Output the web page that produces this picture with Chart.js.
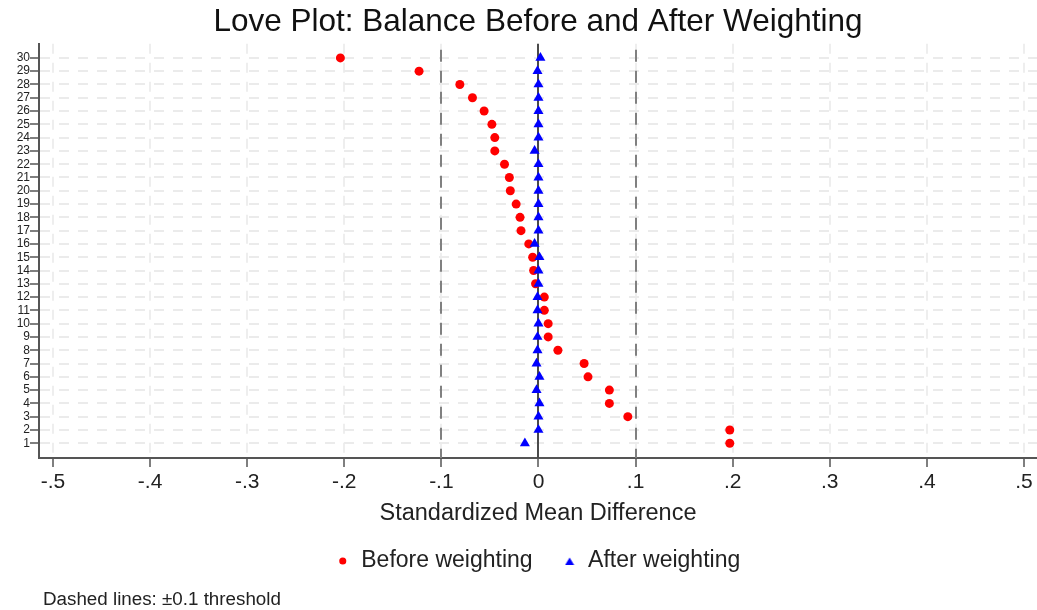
<!DOCTYPE html>
<html>
<head>
<meta charset="utf-8">
<title>Love Plot</title>
<script src="https://cdn.jsdelivr.net/npm/chart.js@4.4.1/dist/chart.umd.min.js"></script>
<style>
  html, body { margin: 0; padding: 0; background: #fff; }
</style>
</head>
<body>
<canvas id="loveplot" width="1037" height="610"></canvas>
<script>
// covariate rows, 1 at the bottom up to 30 at the top
var covariates = [1, 2, 3, 4, 5, 6, 7, 8, 9, 10, 11, 12, 13, 14, 15,
                  16, 17, 18, 19, 20, 21, 22, 23, 24, 25, 26, 27, 28, 29, 30];

// standardized mean differences, same order as covariates
var smdBefore = [0.197, 0.197, 0.092, 0.073, 0.073, 0.051, 0.047, 0.020, 0.010, 0.010,
                 0.006, 0.006, -0.003, -0.005, -0.006, -0.010, -0.018, -0.019, -0.023, -0.029,
                 -0.030, -0.035, -0.045, -0.045, -0.048, -0.056, -0.068, -0.081, -0.123, -0.204];
var smdAfter = [-0.014, 0.000, 0.000, 0.001, -0.002, 0.001, -0.002, -0.001, -0.001, 0.000,
                -0.001, -0.001, 0.000, 0.000, 0.001, -0.004, 0.000, 0.000, 0.000, 0.000,
                0.000, 0.000, -0.004, 0.000, 0.000, 0.000, 0.000, 0.000, -0.001, 0.002];

var xTickValues = [-0.5, -0.4, -0.3, -0.2, -0.1, 0, 0.1, 0.2, 0.3, 0.4, 0.5];
var xTickLabels = ['-.5', '-.4', '-.3', '-.2', '-.1', '0', '.1', '.2', '.3', '.4', '.5'];
var thresholds = [-0.1, 0.1];
var noteText = 'Dashed lines: \u00b10.1 threshold';

var FONT = '"Liberation Sans", Arial, Helvetica, sans-serif';

function toPoints(vals) {
  return vals.map(function (v, i) { return { x: v, y: covariates[i] }; });
}

// small triangle for the legend key (built-in one comes out too small)
function legendTriangle(color) {
  var c = document.createElement('canvas');
  c.width = 10;
  c.height = 8;
  var g = c.getContext('2d');
  g.fillStyle = color;
  g.beginPath();
  g.moveTo(5, 0.5);
  g.lineTo(9.5, 8);
  g.lineTo(0.5, 8);
  g.closePath();
  g.fill();
  return c;
}

// zero line and the +/-0.1 dashed threshold lines
var refLines = {
  id: 'refLines',
  beforeDatasetsDraw: function (chart) {
    var ctx = chart.ctx, area = chart.chartArea, xs = chart.scales.x;
    ctx.save();
    ctx.lineWidth = 2;
    ctx.strokeStyle = '#808080';
    ctx.setLineDash([12, 9]);
    ctx.lineDashOffset = 15;
    thresholds.forEach(function (t) {
      var px = Math.round(xs.getPixelForValue(t));
      ctx.beginPath();
      ctx.moveTo(px, area.top);
      ctx.lineTo(px, area.bottom);
      ctx.stroke();
    });
    ctx.setLineDash([]);
    ctx.strokeStyle = '#4a4a4a';
    var z = Math.round(xs.getPixelForValue(0));
    ctx.beginPath();
    ctx.moveTo(z, area.top);
    ctx.lineTo(z, area.bottom);
    ctx.stroke();
    ctx.restore();
  },
  afterDraw: function (chart) {
    var ctx = chart.ctx;
    ctx.save();
    ctx.font = '18.8px ' + FONT;
    ctx.fillStyle = '#222';
    ctx.textAlign = 'left';
    ctx.textBaseline = 'alphabetic';
    ctx.fillText(noteText, 43, chart.height - 5);
    ctx.restore();
  }
};

new Chart(document.getElementById('loveplot'), {
  type: 'scatter',
  data: {
    datasets: [
      {
        label: 'Before weighting',
        data: toPoints(smdBefore),
        pointStyle: 'circle',
        pointRadius: 4.5,
        pointHoverRadius: 4.5,
        backgroundColor: '#ff0000',
        borderColor: '#ff0000',
        borderWidth: 0,
        order: 2
      },
      {
        label: 'After weighting',
        data: toPoints(smdAfter),
        pointStyle: 'triangle',
        pointRadius: 5.8,
        pointHoverRadius: 5.8,
        backgroundColor: '#0000ff',
        borderColor: '#0000ff',
        borderWidth: 0,
        order: 1
      }
    ]
  },
  options: {
    responsive: false,
    animation: false,
    layout: { autoPadding: false, padding: { top: 0, left: 0, right: 0, bottom: 27.5 } },
    scales: {
      x: {
        type: 'linear',
        min: -0.5144,
        max: 0.5134,
        afterBuildTicks: function (scale) {
          scale.ticks = xTickValues.map(function (v) { return { value: v }; });
        },
        afterFit: function (scale) {
          scale.height = 61.5;
          scale.paddingLeft = 0;
          scale.paddingRight = 0;
        },
        ticks: {
          padding: 3,
          color: '#222',
          font: { family: FONT, size: 21 },
          maxRotation: 0,
          autoSkip: false,
          callback: function (v) {
            var i = xTickValues.indexOf(v);
            return i >= 0 ? xTickLabels[i] : '';
          }
        },
        grid: {
          color: '#eeeeee',
          lineWidth: 2,
          tickLength: 9,
          tickColor: '#555',
          tickWidth: 1.5
        },
        border: { color: '#555', width: 2, dash: [10, 9] },
        title: {
          display: true,
          text: 'Standardized Mean Difference',
          color: '#222',
          font: { family: FONT, size: 23.5 },
          padding: { top: 0, bottom: -8.3 }
        }
      },
      y: {
        type: 'linear',
        min: -0.11,
        max: 31.06,
        afterBuildTicks: function (scale) {
          scale.ticks = covariates.map(function (v) { return { value: v }; });
        },
        afterFit: function (scale) { scale.width = 39; },
        ticks: {
          padding: 0,
          color: '#222',
          autoSkip: false,
          font: { family: FONT, size: 12 },
          callback: function (v) { return String(v); }
        },
        grid: {
          color: '#ebebeb',
          lineWidth: 2,
          tickLength: 9,
          tickColor: '#555',
          tickWidth: 1.5
        },
        border: { color: '#555', width: 2, dash: [10, 9] }
      }
    },
    plugins: {
      title: {
        display: true,
        text: 'Love Plot: Balance Before and After Weighting',
        color: '#111',
        fullSize: false,
        font: { family: FONT, size: 31.5, weight: 'normal' },
        padding: { top: 3, bottom: 3 }
      },
      legend: {
        display: true,
        position: 'bottom',
        fullSize: false,
        labels: {
          usePointStyle: true,
          boxWidth: 14,
          boxHeight: 5,
          padding: 30,
          color: '#222',
          font: { family: FONT, size: 23 },
          sort: function (a, b) { return a.datasetIndex - b.datasetIndex; },
          generateLabels: function (chart) {
            var items = Chart.defaults.plugins.legend.labels.generateLabels(chart);
            items.forEach(function (it) {
              if (it.pointStyle === 'triangle') {
                it.pointStyle = legendTriangle(it.fillStyle);
              }
            });
            return items;
          }
        }
      },
      tooltip: { enabled: false }
    }
  },
  plugins: [refLines]
});
</script>
</body>
</html>
